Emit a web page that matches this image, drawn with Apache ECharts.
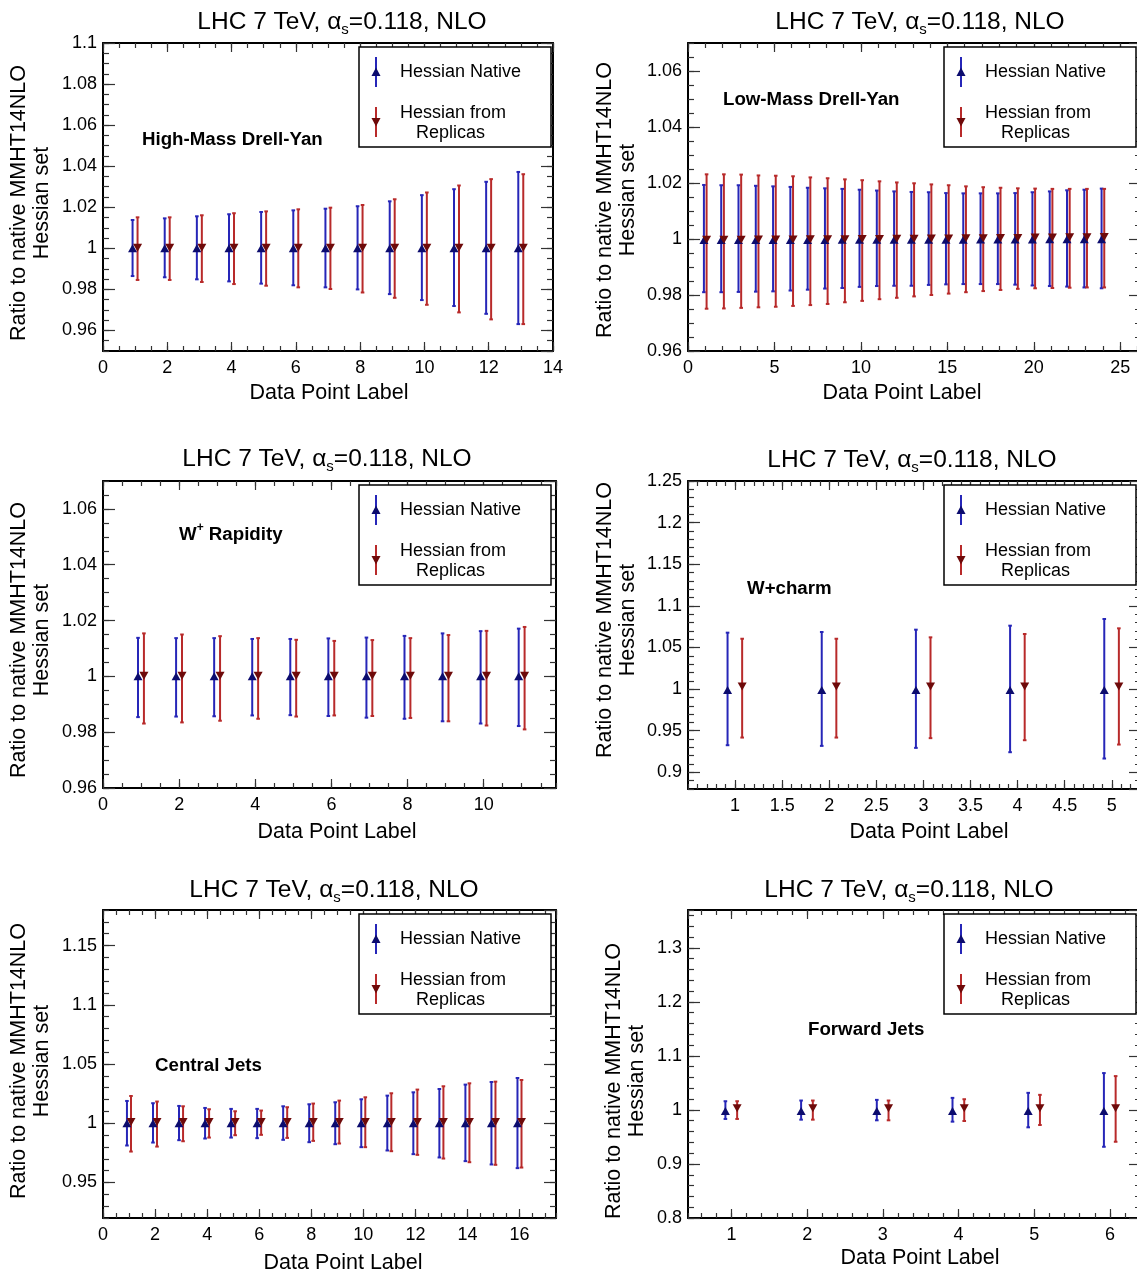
<!DOCTYPE html>
<html><head><meta charset="utf-8">
<script src="https://cdn.jsdelivr.net/npm/echarts@6/dist/echarts.min.js"></script>
<style>html,body{margin:0;padding:0;background:#fff}#c{width:1137px;height:1276px}</style>
</head><body><div id="c"></div>
<script>
// ---------------- data ----------------
// High-Mass Drell-Yan
const hmLabels = [1,2,3,4,5,6,7,8,9,10,11,12,13];
const hmNatC  = [1,1,1,1,1,1,1,1,1,1,1,1,1];
const hmNatLo = [0.9865,0.9859,0.9849,0.9839,0.9828,0.9820,0.9810,0.9800,0.9777,0.9748,0.9719,0.9681,0.9631];
const hmNatHi = [1.0138,1.0146,1.0156,1.0166,1.0177,1.0185,1.0193,1.0205,1.0229,1.0259,1.0288,1.0324,1.0372];
const hmRepC  = [1.0003,1.0003,1.0003,1.0003,1.0003,1.0003,1.0003,1.0003,1.0003,1.0003,1.0003,1.0003,1.0003];
const hmRepLo = [0.9846,0.9846,0.9836,0.9826,0.9818,0.9810,0.9802,0.9785,0.9759,0.9725,0.9688,0.9654,0.9631];
const hmRepHi = [1.0151,1.0151,1.0161,1.0171,1.0180,1.0190,1.0198,1.0211,1.0239,1.0272,1.0306,1.0337,1.0361];

// Low-Mass Drell-Yan
const lmLabels = [1,2,3,4,5,6,7,8,9,10,11,12,13,14,15,16,17,18,19,20,21,22,23,24];
const lmNatC  = [0.9996,0.9996,0.9996,0.9996,0.9996,0.9996,0.9996,0.9996,0.9997,0.9997,0.9997,0.9997,0.9997,0.9997,0.9997,0.9997,0.9998,0.9998,0.9998,0.9998,0.9999,0.9999,0.9999,0.9999];
const lmNatLo = [0.9810,0.9810,0.9811,0.9812,0.9813,0.9816,0.9819,0.9823,0.9825,0.9829,0.9832,0.9833,0.9833,0.9836,0.9838,0.9839,0.9839,0.9839,0.9837,0.9834,0.9832,0.9830,0.9827,0.9824];
const lmNatHi = [1.0193,1.0192,1.0192,1.0190,1.0188,1.0186,1.0183,1.0181,1.0179,1.0176,1.0173,1.0170,1.0168,1.0167,1.0164,1.0163,1.0163,1.0163,1.0164,1.0167,1.0170,1.0174,1.0176,1.0180];
const lmRepC  = [0.9997,0.9997,0.9997,0.9998,0.9998,0.9998,0.9999,0.9999,0.9999,1.0000,1.0000,1.0001,1.0001,1.0002,1.0002,1.0003,1.0003,1.0004,1.0004,1.0005,1.0005,1.0006,1.0006,1.0007];
const lmRepLo = [0.9751,0.9752,0.9754,0.9756,0.9758,0.9761,0.9764,0.9768,0.9774,0.9779,0.9785,0.9790,0.9795,0.9800,0.9805,0.9810,0.9814,0.9818,0.9822,0.9824,0.9825,0.9826,0.9827,0.9827];
const lmRepHi = [1.0231,1.0231,1.0230,1.0227,1.0226,1.0224,1.0220,1.0217,1.0213,1.0210,1.0206,1.0202,1.0199,1.0195,1.0192,1.0188,1.0185,1.0183,1.0181,1.0180,1.0179,1.0179,1.0179,1.0179];

// W+ Rapidity
const wpLabels = [1,2,3,4,5,6,7,8,9,10,11];
const wpNatC  = [1,1,1,1,1,1,1,1,1,1,1];
const wpNatLo = [0.9854,0.9856,0.9857,0.9860,0.9861,0.9858,0.9852,0.9848,0.9839,0.9831,0.9822];
const wpNatHi = [1.0138,1.0137,1.0137,1.0134,1.0134,1.0136,1.0139,1.0145,1.0154,1.0162,1.0171];
const wpRepC  = [1.0002,1.0002,1.0002,1.0002,1.0002,1.0002,1.0002,1.0002,1.0002,1.0002,1.0002];
const wpRepLo = [0.9831,0.9835,0.9841,0.9848,0.9856,0.9860,0.9858,0.9851,0.9839,0.9824,0.9810];
const wpRepHi = [1.0154,1.0150,1.0144,1.0137,1.0131,1.0127,1.0130,1.0137,1.0148,1.0163,1.0177];

// W+charm
const wcLabels = [1,2,3,4,5];
const wcNatC  = [0.999,0.999,0.999,0.999,0.999];
const wcNatLo = [0.9326,0.9318,0.9294,0.9242,0.9166];
const wcNatHi = [1.0678,1.0686,1.0714,1.0762,1.0842];
const wcRepC  = [1.003,1.003,1.003,1.003,1.003];
const wcRepLo = [0.9418,0.9418,0.9411,0.9386,0.9334];
const wcRepHi = [1.0605,1.0605,1.0622,1.0662,1.0730];

// Central Jets
const cjLabels = [1,2,3,4,5,6,7,8,9,10,11,12,13,14,15,16];
const cjNatC  = [1,1,1,1,1,1,1,1,1,1,1,1,1,1,1,1];
const cjNatLo = [0.9812,0.9837,0.9857,0.9871,0.9879,0.9874,0.9860,0.9840,0.9823,0.9798,0.9770,0.9739,0.9711,0.9680,0.9652,0.9621];
const cjNatHi = [1.0188,1.0169,1.0146,1.0129,1.0121,1.0121,1.0143,1.0160,1.0177,1.0202,1.0233,1.0261,1.0289,1.0326,1.0348,1.0382];
const cjRepC  = [1.001,1.001,1.001,1.001,1.001,1.001,1.001,1.001,1.001,1.001,1.001,1.001,1.001,1.001,1.001,1.001];
const cjRepLo = [0.9761,0.9803,0.9848,0.9879,0.9899,0.9902,0.9876,0.9851,0.9829,0.9798,0.9764,0.9733,0.9702,0.9671,0.9649,0.9626];
const cjRepHi = [1.0230,1.0183,1.0143,1.0118,1.0101,1.0107,1.0135,1.0166,1.0191,1.0219,1.0253,1.0284,1.0312,1.0337,1.0351,1.0365];

// Forward Jets
const fjLabels = [1,2,3,4,5,6];
const fjNatC  = [0.998,0.998,0.998,0.998,0.998,0.998];
const fjNatLo = [0.9833,0.9820,0.9808,0.9783,0.9678,0.9318];
const fjNatHi = [1.0161,1.0174,1.0186,1.0223,1.0316,1.0682];
const fjRepC  = [1.003,1.003,1.003,1.003,1.003,1.003];
const fjRepLo = [0.9833,0.9820,0.9808,0.9795,0.9721,0.9411];
const fjRepHi = [1.0161,1.0174,1.0174,1.0198,1.0279,1.0626];

// ---------------- style ----------------
const FONT = "'Liberation Sans', Arial, Helvetica, sans-serif";
const NAT_BAR = '#2626b8', NAT_MK = '#0c0c6e';
const REP_BAR = '#b82a2a', REP_MK = '#6e0a0a';
const NAT_DX = -0.08, REP_DX = 0.075;
const TICK_FS = 18, LEG_FS = 18;

const panels = [
  { note:'{b|High-Mass Drell-Yan}', g:[103,43,450,308],
    x:{min:0,max:14,major:2,minor:0.5}, y:{min:0.95,max:1.1,major:0.02,minor:0.005,hideMin:true},
    L:hmLabels, nat:[hmNatC,hmNatLo,hmNatHi], rep:[hmRepC,hmRepLo,hmRepHi],
    title:[342,22], yt:[31,203], xt:[329,393], nt:[142,140] },
  { note:'{b|Low-Mass Drell-Yan}', g:[688,43,453,308],
    x:{min:0,max:26.2,major:5,minor:1,hideMax:true}, y:{min:0.96,max:1.07,major:0.02,minor:0.005,hideMax:true},
    L:lmLabels, nat:[lmNatC,lmNatLo,lmNatHi], rep:[lmRepC,lmRepLo,lmRepHi],
    title:[920,22], yt:[617,200], xt:[902,393], nt:[723,100] },
  { note:'{b|W}{sup|+}{b| Rapidity}', g:[103,481,453,307],
    x:{min:0,max:11.9,major:2,minor:0.5,hideMax:true}, y:{min:0.96,max:1.07,major:0.02,minor:0.005,hideMax:true},
    L:wpLabels, nat:[wpNatC,wpNatLo,wpNatHi], rep:[wpRepC,wpRepLo,wpRepHi],
    title:[327,459], yt:[31,640], xt:[337,832], nt:[179,535] },
  { note:'{b|W+charm}', g:[688,481,453,308],
    x:{min:0.5,max:5.31,major:0.5,minor:0.1,hideMin:true,hideMax:true}, y:{min:0.88,max:1.25,major:0.05,minor:0.01,hideMin:true},
    L:wcLabels, nat:[wcNatC,wcNatLo,wcNatHi], rep:[wcRepC,wcRepLo,wcRepHi],
    title:[912,460], yt:[617,620], xt:[929,832], nt:[747,589] },
  { note:'{b|Central Jets}', g:[103,910,453,308],
    x:{min:0,max:17.4,major:2,minor:0.5,hideMax:true}, y:{min:0.92,max:1.18,major:0.05,minor:0.01,hideMin:true,hideMax:true},
    L:cjLabels, nat:[cjNatC,cjNatLo,cjNatHi], rep:[cjRepC,cjRepLo,cjRepHi],
    title:[334,890], yt:[31,1061], xt:[343,1263], nt:[155,1066] },
  { note:'{b|Forward Jets}', g:[688,910,453,308],
    x:{min:0.426,max:6.41,major:1,minor:0.2,hideMin:true,hideMax:true}, y:{min:0.8,max:1.37,major:0.1,minor:0.02,hideMax:true},
    L:fjLabels, nat:[fjNatC,fjNatLo,fjNatHi], rep:[fjRepC,fjRepLo,fjRepHi],
    title:[909,890], yt:[626,1081], xt:[920,1258], nt:[808,1030] }
];

function mkAxis(dim, gi, ax, pos, major) {
  const step = major ? ax.major : ax.minor;
  const labelSide = major && (pos === 'bottom' || pos === 'left');
  const len = dim === 'x' ? (major ? 9 : 5) : (major ? 12 : 6);
  return {
    type:'value', gridIndex:gi, position:pos, min:ax.min, max:ax.max,
    minInterval:step, maxInterval:step,
    splitNumber:Math.max(1, Math.round((ax.max - ax.min) / step)),
    axisLine:{show:major, onZero:false, lineStyle:{color:'#000', width:2}},
    axisTick:{show:true, inside:true, length:len, lineStyle:{color:'#333', width:1.2}},
    minorTick:{show:false}, splitLine:{show:false}, minorSplitLine:{show:false}, splitArea:{show:false},
    axisLabel: labelSide ? {show:true, fontSize:TICK_FS, fontFamily:FONT, color:'#000',
      margin: dim === 'x' ? 8 : 6, showMinLabel: !ax.hideMin, showMaxLabel: !ax.hideMax} : {show:false},
    axisPointer:{show:false}, silent:true
  };
}

function errRender(params, api) {
  const x = api.value(0), lo = api.value(2), hi = api.value(3);
  const a = api.coord([x, lo]), b = api.coord([x, hi]);
  const c = api.visual('color');
  const st = {stroke:c, lineWidth:2};
  return {type:'group', children:[
    {type:'line', shape:{x1:a[0], y1:a[1], x2:b[0], y2:b[1]}, style:st},
    {type:'line', shape:{x1:a[0]-1.8, y1:a[1], x2:a[0]+1.8, y2:a[1]}, style:st},
    {type:'line', shape:{x1:b[0]-1.8, y1:b[1], x2:b[0]+1.8, y2:b[1]}, style:st}
  ]};
}

const option = {animation:false, backgroundColor:'#fff', grid:[], xAxis:[], yAxis:[], series:[], graphic:{elements:[]}};
const G = option.graphic.elements;

function txt(x, y, text, extra) {
  return Object.assign({type:'text', x:x, y:y, z:20, silent:true,
    style:Object.assign({text:text, fill:'#000', fontFamily:FONT, fontSize:LEG_FS,
      align:'left', verticalAlign:'middle', textAlign:'left', textVerticalAlign:'middle'}, extra || {})});
}

function tri(cx, cy, up, color) {
  const h = 4.5;
  const pts = up ? [[cx-h, cy+4],[cx+h, cy+4],[cx, cy-4.5]] : [[cx-h, cy-4],[cx+h, cy-4],[cx, cy+4.5]];
  return {type:'polygon', z:22, silent:true, shape:{points:pts}, style:{fill:color}};
}

panels.forEach((p, i) => {
  option.grid.push({left:p.g[0], top:p.g[1], width:p.g[2], height:p.g[3], containLabel:false, outerBoundsMode:'none'});
  const base = i * 4;
  option.xAxis.push(mkAxis('x', i, p.x, 'bottom', true), mkAxis('x', i, p.x, 'bottom', false),
                    mkAxis('x', i, p.x, 'top', true), mkAxis('x', i, p.x, 'top', false));
  option.yAxis.push(mkAxis('y', i, p.y, 'left', true), mkAxis('y', i, p.y, 'left', false),
                    mkAxis('y', i, p.y, 'right', true), mkAxis('y', i, p.y, 'right', false));
  const natData = p.L.map((l, k) => [l + NAT_DX, p.nat[0][k], p.nat[1][k], p.nat[2][k]]);
  const repData = p.L.map((l, k) => [l + REP_DX, p.rep[0][k], p.rep[1][k], p.rep[2][k]]);
  option.series.push(
    {type:'custom', xAxisIndex:base, yAxisIndex:base, renderItem:errRender, data:natData,
     encode:{x:0, y:[1,2,3]}, itemStyle:{color:NAT_BAR}, z:3, silent:true},
    {type:'custom', xAxisIndex:base, yAxisIndex:base, renderItem:errRender, data:repData,
     encode:{x:0, y:[1,2,3]}, itemStyle:{color:REP_BAR}, z:3, silent:true},
    {type:'scatter', xAxisIndex:base, yAxisIndex:base, data:natData.map(d => [d[0], d[1]]),
     symbol:'triangle', symbolSize:[9,8], itemStyle:{color:NAT_MK, opacity:1}, z:5, silent:true},
    {type:'scatter', xAxisIndex:base, yAxisIndex:base, data:repData.map(d => [d[0], d[1]]),
     symbol:'triangle', symbolRotate:180, symbolSize:[9,8], itemStyle:{color:REP_MK, opacity:1}, z:5, silent:true}
  );

  // title
  G.push(txt(p.title[0], p.title[1], '{a|LHC 7 TeV, α}{s|s}{a|=0.118, NLO}', {
    align:'center', textAlign:'center',
    rich:{a:{fontSize:24.5, fontFamily:FONT, fill:'#000', lineHeight:30},
          s:{fontSize:15, fontFamily:FONT, fill:'#000', verticalAlign:'bottom', lineHeight:15}}
  }));
  // y title
  G.push(Object.assign(txt(p.yt[0], p.yt[1], 'Ratio to native MMHT14NLO\nHessian set', {
    align:'center', textAlign:'center', fontSize:21.5, lineHeight:23}), {rotation:Math.PI/2}));
  // x title
  G.push(txt(p.xt[0], p.xt[1], 'Data Point Label', {align:'center', textAlign:'center', fontSize:21.5}));
  // annotation
  G.push(txt(p.nt[0], p.nt[1], p.note, {
    rich:{b:{fontSize:18.7, fontWeight:'bold', fontFamily:FONT, fill:'#000', lineHeight:26},
          sup:{fontSize:12, fontWeight:'bold', fontFamily:FONT, fill:'#000', verticalAlign:'top', lineHeight:12}}
  }));
  // legend box
  const x0 = p.g[0] + 256, y0 = p.g[1] + 4;
  G.push({type:'rect', z:15, silent:true, shape:{x:x0, y:y0, width:192, height:100},
          style:{fill:'#fff', stroke:'#000', lineWidth:1.5}});
  G.push({type:'line', z:21, silent:true, shape:{x1:x0+17, y1:y0+10, x2:x0+17, y2:y0+40}, style:{stroke:NAT_BAR, lineWidth:2}});
  G.push(tri(x0+17, y0+25, true, NAT_MK));
  G.push({type:'line', z:21, silent:true, shape:{x1:x0+17, y1:y0+60, x2:x0+17, y2:y0+90}, style:{stroke:REP_BAR, lineWidth:2}});
  G.push(tri(x0+17, y0+75, false, REP_MK));
  G.push(txt(x0+41, y0+25, 'Hessian Native'));
  G.push(txt(x0+41, y0+66, 'Hessian from'));
  G.push(txt(x0+57, y0+86, 'Replicas'));
});

const chart = echarts.init(document.getElementById('c'), null, {renderer:'canvas', width:1137, height:1276});
chart.setOption(option);
</script>
</body></html>
